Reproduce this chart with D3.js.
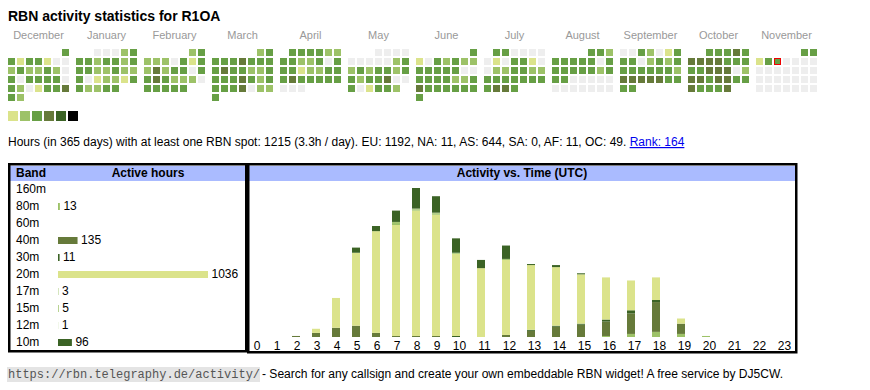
<!DOCTYPE html>
<html>
<head>
<meta charset="utf-8">
<script src="https://cdn.jsdelivr.net/npm/d3@7"></script>
<style>
  body { margin: 0; background: #fff; }
  text { font-family: "Liberation Sans", Arial, sans-serif; }
  text.mono { font-family: "Liberation Mono", "Courier New", monospace; }
</style>
</head>
<body>
<div id="chart"></div>
<script>
const svgWidth = 870, svgHeight = 390;

// calendar: activity level per day (0 = none ... 6 = max), Dec 2024 - Nov 2025
const monthNames = ["December", "January", "February", "March", "April", "May",
  "June", "July", "August", "September", "October", "November"];
const monthStarts = ["2024-12-01", "2025-01-01", "2025-02-01", "2025-03-01", "2025-04-01", "2025-05-01",
  "2025-06-01", "2025-07-01", "2025-08-01", "2025-09-01", "2025-10-01", "2025-11-01"];
const dec = [3, 3,1,3,3,1,0,0, 2,3,2,2,3,2,0, 3,0,3,3,3,3,0, 3,2,0,1,3,3,4, 3,2];
const jan = [0,0,0,2,3, 3,3,2,3,3,2,3, 3,3,2,2,3,2,2, 3,0,1,2,2,1,3, 3,2,2,3,3];
const feb = [2,3, 2,2,2,0,3,1,3, 2,4,2,3,3,0,3, 3,4,3,2,2,2,0, 3,3,3,3,3];
const mar = [2,3, 3,3,3,4,3,3,3, 3,4,3,3,2,2,3, 3,3,3,4,3,2,3, 3,3,3,4,0,2,2, 3];
const apr = [3,3,3,3,2,2, 3,3,2,2,3,0,3, 3,3,1,2,2,3,3, 3,4,3,3,3,3,3, 0,0,0];
const may = [0,0,0,0, 0,0,0,0,0,2,3, 2,3,2,3,3,2,3, 3,2,3,3,4,0,0, 3,0,1,3,3,2];
const jun = [3, 1,0,3,2,3,2,2, 3,3,3,3,3,0,0, 3,3,3,3,2,2,3, 4,3,3,3,3,3,3, 3];
const jul = [3,3,0,0,0,0, 0,1,0,3,3,1,0, 0,2,2,3,3,2,2, 3,3,3,3,3,3,3, 3,4,4,3];
const aug = [3,3,2, 3,3,3,3,3,0,3, 3,3,3,3,3,2,3, 3,3,0,0,0,0,0, 0,0,0,0,0,0,0];
const sep = [0,0,3,2,0,1,3, 3,3,0,2,3,2,3, 3,3,3,3,3,3,2, 4,4,4,4,4,3,3, 3,3];
const oct = [3,3,3,4,3, 4,4,4,4,3,3,3, 3,3,4,4,4,0,2, 4,4,3,4,4,3,3, 4,3,3,3,4];
const nov = [3,3, 1,3,3,0,0,0,0, 0,0,0,0,0,0,0, 0,0,0,0,0,0,0, 0,0,0,0,0,0,0];
const monthLevels = [dec, jan, feb, mar, apr, may, jun, jul, aug, sep, oct, nov];
const today = "2025-11-05";
const levelColors = ["#eeeeee", "#dbe38b", "#9dc268", "#679f45", "#667a3a", "#3b6325", "#000000"];

// bands and hours
const bands = ["160m", "80m", "60m", "40m", "30m", "20m", "17m", "15m", "12m", "10m"];
const bandHours = [0, 13, 0, 135, 11, 1036, 3, 5, 1, 96];
const bandColors = ["#9dc268", "#9dc268", "#9dc268", "#667a3a", "#3b6325", "#dbe38b", "#9dc268", "#9dc268", "#9dc268", "#3b6325"];
const hours = d3.range(24);
// per band, active hours for each UTC hour 0..23
const h160 = [0,0,0,0,0,0,0,0,0,0,0,0,0,0,0,0,0,0,0,0,0,0,0,0];
const h80  = [0,0,0,0,0,0,0,0,0,0,0,0,0,0,0,0,1,3,5,3,1,0,0,0];
const h60  = [0,0,0,0,0,0,0,0,0,0,0,0,0,0,0,0,0,0,0,0,0,0,0,0];
const h40  = [0,0,1,4,9,11,4,1,1,1,0,0,2,6,10,12,14,20,29,10,0,0,0,0];
const h30  = [0,0,0,0,0,0,0,0,0,0,1,0,0,1,1,1,2,3,2,0,0,0,0,0];
const h20  = [0,0,0,4,29,71,99,108,122,118,80,67,73,63,57,48,41,29,22,5,0,0,0,0];
const h17  = [0,0,0,0,0,0,0,1,1,1,0,0,0,0,0,0,0,0,0,0,0,0,0,0];
const h15  = [0,0,0,0,0,0,0,1,1,1,1,0,1,0,0,0,0,0,0,0,0,0,0,0];
const h12  = [0,0,0,0,0,0,0,1,0,0,0,0,0,0,0,0,0,0,0,0,0,0,0,0];
const h10  = [0,0,0,0,0,5,5,11,20,16,14,8,13,1,2,1,0,0,0,0,0,0,0,0];
const bandByHour = [h160, h80, h60, h40, h30, h20, h17, h15, h12, h10];

const svg = d3.select('#chart').append('svg')
  .attr('width', svgWidth)
  .attr('height', svgHeight);

// title
svg.append('text')
  .attr('x', 8).attr('y', 21)
  .attr('font-size', 14).attr('font-weight', 'bold')
  .text('RBN activity statistics for R1OA');

// ---- calendar ----
const parse = d3.timeParse('%Y-%m-%d');
const fmt = d3.timeFormat('%Y-%m-%d');
const monthX = d3.scaleLinear().domain([0, 12]).range([8, 8 + 12 * 68]);
const dayX = d3.scaleLinear().domain([0, 7]).range([0, 63]);
const rowY = d3.scaleLinear().domain([0, 6]).range([49, 103]);
const levelColor = d3.scaleOrdinal().domain(d3.range(7)).range(levelColors);

const days = [];
monthStarts.forEach((s, m) => {
  const start = parse(s);
  monthLevels[m].forEach((lvl, i) => {
    const d = d3.timeDay.offset(start, i);
    days.push({ m, date: d, level: lvl,
      col: (d.getDay() + 6) % 7,
      row: d3.timeMonday.count(start, d) });
  });
});

const cal = svg.append('g');
cal.selectAll('text.month')
  .data(monthNames)
  .enter().append('text')
  .attr('x', (d, i) => monthX(i) + dayX(7) / 2 - 1)
  .attr('y', 39)
  .attr('text-anchor', 'middle')
  .attr('font-size', 11)
  .attr('fill', '#999')
  .text(d => d);

cal.selectAll('rect.day')
  .data(days)
  .enter().append('rect')
  .attr('x', d => monthX(d.m) + dayX(d.col))
  .attr('y', d => rowY(d.row))
  .attr('width', 7).attr('height', 7)
  .attr('fill', d => levelColor(d.level));

const t = days.find(d => fmt(d.date) === today);
cal.append('rect')
  .attr('x', monthX(t.m) + dayX(t.col) + 0.5)
  .attr('y', rowY(t.row) + 0.5)
  .attr('width', 6).attr('height', 6)
  .attr('fill', 'none').attr('stroke', '#e00').attr('stroke-width', 1);

// legend
cal.selectAll('rect.legend')
  .data(d3.range(1, 7))
  .enter().append('rect')
  .attr('x', (d, i) => 8 + i * 12)
  .attr('y', 111)
  .attr('width', 10).attr('height', 10)
  .attr('fill', d => levelColor(d));

// summary line
const summary = svg.append('text')
  .attr('x', 8).attr('y', 146)
  .attr('font-size', 12);
summary.append('tspan')
  .text('Hours (in 365 days) with at least one RBN spot: 1215 (3.3h / day). EU: 1192, NA: 11, AS: 644, SA: 0, AF: 11, OC: 49. ');
summary.append('tspan')
  .attr('fill', '#0000ee')
  .attr('text-decoration', 'underline')
  .text('Rank: 164');

// ---- band table ----
const table = svg.append('g');
table.append('rect').attr('x', 10).attr('y', 166).attr('width', 236).attr('height', 15).attr('fill', '#aabbff');
table.append('rect').attr('x', 9.25).attr('y', 164.25).attr('width', 237).attr('height', 187)
  .attr('fill', 'none').attr('stroke', '#000').attr('stroke-width', 2.5);
table.append('text').attr('x', 16).attr('y', 177).attr('font-size', 12).attr('font-weight', 'bold').text('Band');
table.append('text').attr('x', 148).attr('y', 177).attr('font-size', 12).attr('font-weight', 'bold')
  .attr('text-anchor', 'middle').text('Active hours');

const bandY = d3.scaleBand().domain(bands).range([182, 352]);
const hoursX = d3.scaleLinear().domain([0, d3.max(bandHours)]).range([0, 150]);
const rows = table.selectAll('g.row')
  .data(bands.map((b, i) => ({ band: b, hours: bandHours[i], color: bandColors[i] })))
  .enter().append('g')
  .attr('transform', d => `translate(0, ${bandY(d.band) + 11})`);
rows.append('text').attr('x', 16).attr('font-size', 12).text(d => d.band);
rows.filter(d => d.hours > 0).append('rect')
  .attr('x', 58).attr('y', -7)
  .attr('width', d => hoursX(d.hours)).attr('height', 7)
  .attr('fill', d => d.color);
rows.filter(d => d.hours > 0).append('text')
  .attr('x', d => 58 + hoursX(d.hours) + 3.5)
  .attr('font-size', 12)
  .text(d => d.hours);

// ---- activity vs time ----
const act = svg.append('g');
act.append('rect').attr('x', 249).attr('y', 166).attr('width', 546).attr('height', 15).attr('fill', '#aabbff');
act.append('rect').attr('x', 248.25).attr('y', 164.25).attr('width', 548).attr('height', 188)
  .attr('fill', 'none').attr('stroke', '#000').attr('stroke-width', 2.5);
act.append('text').attr('x', 522).attr('y', 177).attr('font-size', 12).attr('font-weight', 'bold')
  .attr('text-anchor', 'middle').text('Activity vs. Time (UTC)');

const colX = d3.scaleLinear().domain([0, 10, 24]).range([246, 446, 796]);
const stackData = hours.map(h => {
  const o = { hour: h };
  bands.forEach((b, i) => { o[b] = bandByHour[i][h]; });
  return o;
});
const series = d3.stack().keys(bands)(stackData);
const maxTotal = d3.max(stackData, d => d3.sum(bands, b => d[b]));
const yScale = d3.scaleLinear().domain([0, maxTotal]).range([337, 188]);

act.selectAll('g.series')
  .data(series)
  .enter().append('g')
  .attr('fill', (d, i) => bandColors[i])
  .selectAll('rect')
  .data(d => d.filter(p => p[1] > p[0]))
  .enter().append('rect')
  .attr('x', p => colX(p.data.hour) + 6)
  .attr('y', p => yScale(p[1]))
  .attr('width', 8)
  .attr('height', p => yScale(p[0]) - yScale(p[1]));

act.selectAll('text.hour')
  .data(hours)
  .enter().append('text')
  .attr('x', h => (colX(h) + colX(h + 1)) / 2 + 1)
  .attr('y', 350)
  .attr('text-anchor', 'middle')
  .attr('font-size', 12)
  .text(h => h);

// footer
const foot = svg.append('g');
foot.append('rect').attr('x', 7).attr('y', 367).attr('width', 253).attr('height', 15).attr('fill', '#e4e4e4');
foot.append('text').attr('class', 'mono').attr('x', 8).attr('y', 378)
  .attr('font-size', 12).attr('fill', '#555')
  .text('https://rbn.telegraphy.de/activity/');
foot.append('text').attr('x', 262).attr('y', 378).attr('font-size', 12)
  .attr('textLength', 521).attr('lengthAdjust', 'spacingAndGlyphs')
  .text(' - Search for any callsign and create your own embeddable RBN widget! A free service by DJ5CW.');
</script>
</body>
</html>
